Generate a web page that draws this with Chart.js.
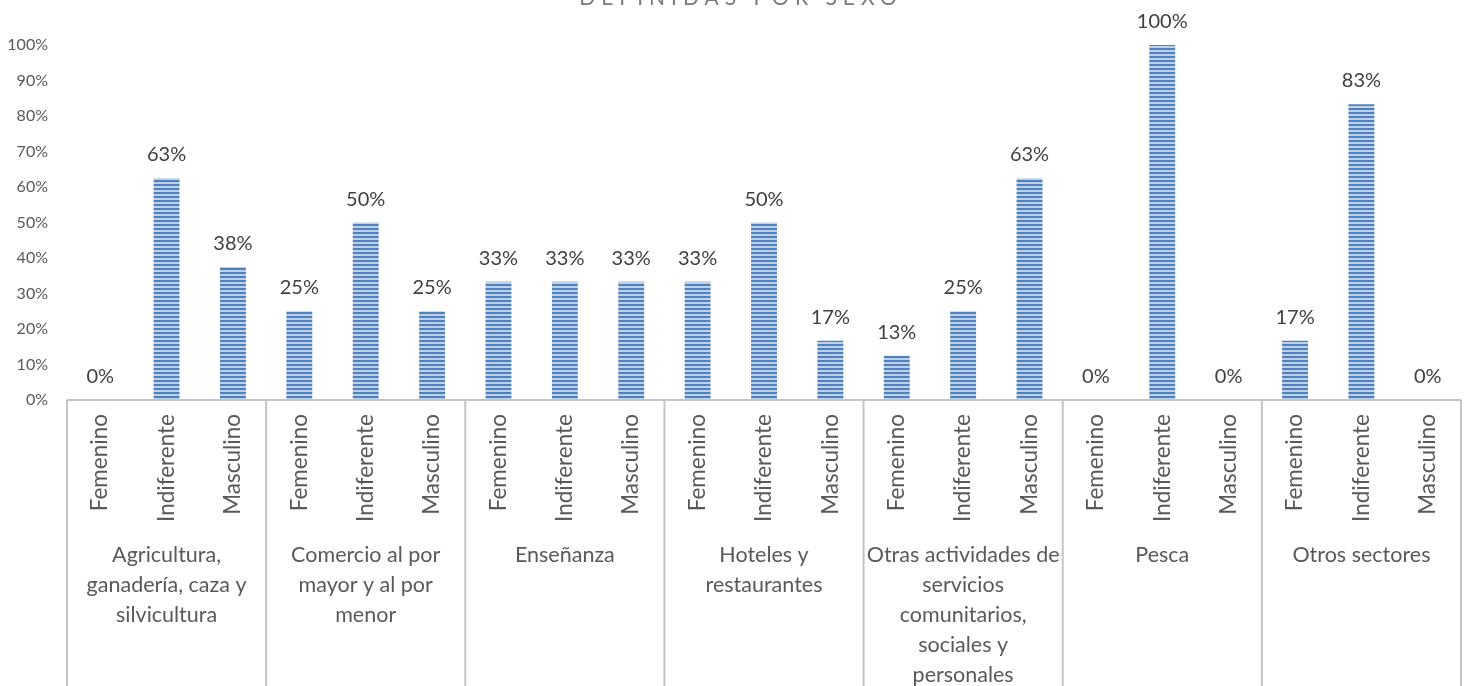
<!DOCTYPE html>
<html lang="es">
<head>
<meta charset="UTF-8">
<script src="https://cdn.jsdelivr.net/npm/chart.js"></script>
<title>Definidas por sexo</title>
<style>
  body { margin: 0; background: #fff; }
  canvas { display: block; }
</style>
</head>
<body>
<canvas id="myChart" width="1466" height="686"></canvas>
<script>
// datos (porcentaje)
const sectores = [
    ['Agricultura,', 'ganadería, caza y', 'silvicultura'],
    ['Comercio al por', 'mayor y al por', 'menor'],
    ['Enseñanza'],
    ['Hoteles y', 'restaurantes'],
    ['Otras actividades de', 'servicios', 'comunitarios,', 'sociales y', 'personales'],
    ['Pesca'],
    ['Otros sectores']
];
const sexos = ['Femenino', 'Indiferente', 'Masculino'];
const femenino    = [0,    25, 33.3, 33.3, 12.5, 0,   16.7];
const indiferente = [62.5, 50, 33.3, 50,   25,   100, 83.3];
const masculino   = [37.5, 25, 33.3, 16.7, 62.5, 0,   0];
const yTicks = [0, 10, 20, 30, 40, 50, 60, 70, 80, 90, 100];
const titulo = 'DEFINIDAS POR SEXO';

const labels = [];
const values = [];
sectores.forEach((s, i) => {
    labels.push(sexos[0], sexos[1], sexos[2]);
    values.push(femenino[i], indiferente[i], masculino[i]);
});

// relleno rayado horizontal
function stripes() {
    const c = document.createElement('canvas');
    c.width = 4; c.height = 4;
    const g = c.getContext('2d');
    g.fillStyle = '#bcd0e9';
    g.fillRect(0, 0, 4, 4);
    g.fillStyle = '#4f81bd';
    g.fillRect(0, 0, 4, 2);
    return g.createPattern(c, 'repeat');
}

const extras = {
    id: 'extras',
    afterDatasetsDraw(chart) {
        const ctx = chart.ctx;
        const area = chart.chartArea;
        ctx.save();
        // etiquetas de datos
        ctx.font = '20px Lato';
        ctx.fillStyle = '#404040';
        ctx.textAlign = 'center';
        ctx.textBaseline = 'alphabetic';
        chart.getDatasetMeta(0).data.forEach((bar, i) => {
            ctx.fillText(Math.round(values[i]) + '%', bar.x, bar.y - 17);
        });
        // eje y separadores
        ctx.strokeStyle = '#c4c4c4';
        ctx.lineWidth = 2;
        ctx.beginPath();
        ctx.moveTo(area.left, area.bottom);
        ctx.lineTo(area.right, area.bottom);
        const w = (area.right - area.left) / sectores.length;
        for (let i = 0; i <= sectores.length; i++) {
            const x = area.left + i * w;
            ctx.moveTo(x, area.bottom);
            ctx.lineTo(x, chart.height);
        }
        ctx.stroke();
        // nombres de sector
        ctx.font = '21.5px Lato';
        ctx.fillStyle = '#595959';
        ctx.textBaseline = 'middle';
        sectores.forEach((lines, i) => {
            const cx = area.left + (i + 0.5) * w;
            lines.forEach((t, j) => ctx.fillText(t, cx, 555 + j * 30));
        });
        // titulo (cortado arriba)
        ctx.font = '21px Lato';
        ctx.fillStyle = '#7a7a7a';
        ctx.letterSpacing = '6px';
        ctx.textBaseline = 'alphabetic';
        ctx.fillText(titulo, 741, 5);
        ctx.restore();
    }
};

const ctx = document.getElementById('myChart').getContext('2d');
new Chart(ctx, {
    type: 'bar',
    data: {
        labels: labels,
        datasets: [{
            data: values,
            backgroundColor: stripes(),
            categoryPercentage: 1,
            barPercentage: 0.39
        }]
    },
    options: {
        responsive: false,
        animation: false,
        devicePixelRatio: 1,
        layout: { padding: { top: 45, right: 5, left: 0, bottom: 0 } },
        plugins: { legend: { display: false }, tooltip: { enabled: false } },
        scales: {
            x: {
                grid: { display: false, drawTicks: false },
                border: { display: false },
                ticks: {
                    autoSkip: false, maxRotation: 90, minRotation: 90,
                    font: { family: 'Lato', size: 22.5 }, color: '#595959', padding: 14
                },
                afterFit: (s) => { s.height = 286; s.paddingLeft = 0; s.paddingRight = 0; }
            },
            y: {
                min: 0, max: 100,
                afterBuildTicks: (s) => { s.ticks = yTicks.map(v => ({ value: v })); },
                grid: { display: false, drawTicks: false },
                border: { display: false },
                ticks: {
                    callback: (v) => v + '%',
                    font: { family: 'Lato', size: 16 }, color: '#595959', padding: 19
                },
                afterFit: (s) => { s.width = 67; }
            }
        }
    },
    plugins: [extras]
});
</script>
</body>
</html>
